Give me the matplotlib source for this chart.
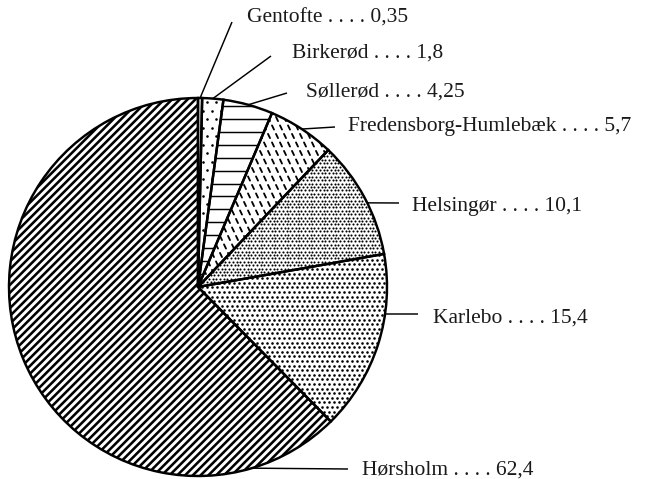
import numpy as np
import matplotlib.pyplot as plt
from matplotlib.collections import LineCollection

plt.rcParams['font.family'] = ['Liberation Serif', 'DejaVu Serif']

# data: share (%) per kommune, clockwise from the top
kommuner = ['Gentofte', 'Birkerød', 'Søllerød', 'Fredensborg-Humlebæk',
            'Helsingør', 'Karlebo', 'Hørsholm']
andel = [0.35, 1.8, 4.25, 5.7, 10.1, 15.4, 62.4]

# where each leader leaves its slice (fraction along the slice, clockwise)
anchor_frac = [0.5, 0.5, 0.5, 0.5, 0.55, 0.33, 0.125]
# label baseline positions and leader ends, image pixels (y down)
label_pos = [(247, 23), (292, 58), (306, 97), (348, 131), (412, 211), (433, 323), (362, 475)]
line_end = [(232, 23), (271, 57), (287, 94), (335, 128), (399, 204), (418, 315), (348, 470)]

W, H = 646, 480
DPI = 88
cx, cy, R = 198, 288, 189
C = np.array([cx, H - cy])

fig = plt.figure(figsize=(W / DPI, H / DPI), dpi=DPI)
ax = fig.add_axes([0, 0, 1, 1])

wedges, _ = ax.pie(andel, center=(cx, H - cy), radius=R, startangle=90,
                   counterclock=False, colors=['none'] * len(andel),
                   wedgeprops=dict(edgecolor='black', linewidth=2.0, zorder=2))


def fill_lines(wedge, angle, spacing, lw):
    t = np.deg2rad(angle)
    d = np.array([np.cos(t), np.sin(t)])
    n = np.array([-np.sin(t), np.cos(t)])
    segs = [[C + o * n - 1.5 * R * d, C + o * n + 1.5 * R * d]
            for o in np.arange(-1.5 * R, 1.5 * R, spacing)]
    lc = LineCollection(segs, colors='black', linewidths=lw, zorder=1.5)
    ax.add_collection(lc)
    lc.set_clip_path(wedge)


def fill_dots(wedge, step_x, step_y, size_px):
    xs, ys = np.meshgrid(np.arange(cx - R, cx + R, step_x),
                         np.arange(H - cy - R, H - cy + R, step_y))
    xs[1::2] += step_x / 2
    sc = ax.scatter(xs.ravel(), ys.ravel(), s=(size_px * 72 / DPI) ** 2,
                    c='black', linewidths=0, zorder=1.5)
    sc.set_clip_path(wedge)


def fill_dashes(wedge, step_x, step_y, lw):
    xs, ys = np.meshgrid(np.arange(cx - R, cx + R, step_x),
                         np.arange(H - cy - R, H - cy + R, step_y))
    xs[::2] += step_x / 2
    xs, ys = xs.ravel(), ys.ravel()
    segs = np.stack([np.column_stack([xs - 1.0, ys + 2.1]),
                     np.column_stack([xs + 1.0, ys - 2.1])], axis=1)
    lc = LineCollection(segs, colors='black', linewidths=lw, capstyle='round', zorder=1.5)
    ax.add_collection(lc)
    lc.set_clip_path(wedge)


# Gentofte stays blank
fill_dots(wedges[1], 9.0, 8.5, 2.6)
fill_lines(wedges[2], 0, 12.9, 1.2)
fill_dashes(wedges[3], 8.0, 8.5, 1.5)
fill_dots(wedges[4], 3.7, 3.4, 2.1)
fill_dots(wedges[5], 5.0, 4.6, 2.6)
fill_lines(wedges[6], 45, 5.5, 2.1)

# leaders and labels
for w, name, val, f, (tx, ty), (ex, ey) in zip(wedges, kommuner, andel, anchor_frac,
                                               label_pos, line_end):
    ang = np.deg2rad(w.theta2 - f * (w.theta2 - w.theta1))
    x0 = cx + R * np.cos(ang)
    y0 = (H - cy) + R * np.sin(ang)
    ax.plot([x0, ex], [y0, H - ey], color='black', lw=1.2, solid_capstyle='butt', zorder=4)
    txt = '%s . . . . %s' % (name, str(val).replace('.', ','))
    ax.text(tx, H - ty, txt, fontsize=17.6, ha='left', va='baseline', color='#1a1a1a')

ax.set_xlim(0, W)
ax.set_ylim(0, H)
ax.axis('off')

fig.savefig('out.png', dpi=DPI)
